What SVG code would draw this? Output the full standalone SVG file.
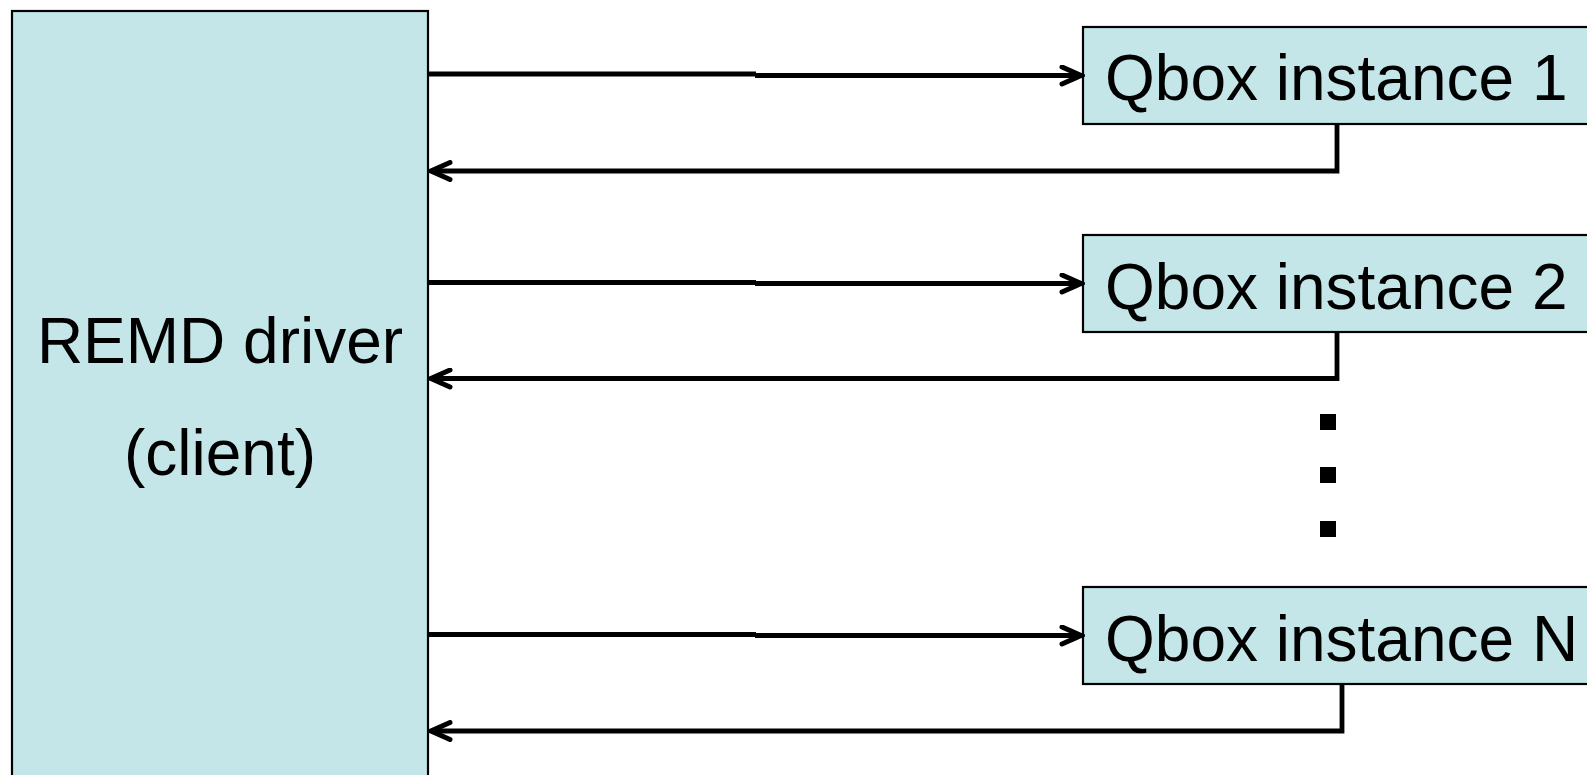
<svg xmlns="http://www.w3.org/2000/svg" width="1587" height="775" viewBox="0 0 1587 775">
  <style>
    .box { fill: #C5E6E8; stroke: #000; stroke-width: 2.2; }
    .label { font-family: "Liberation Sans", Arial, sans-serif; font-size: 64px; fill: #000; }
    .wire { fill: none; stroke: #000; stroke-width: 4.8; }
    .dot { fill: #000; }
  </style>
  <defs>
    <marker id="head" viewBox="0 0 26 22" refX="22" refY="11" markerWidth="26" markerHeight="22" markerUnits="userSpaceOnUse" orient="auto">
      <path d="M3,2.5 L22,11 L3,19.5" fill="none" stroke="#000" stroke-width="5" stroke-linecap="round" stroke-linejoin="miter"/>
    </marker>
  </defs>

  <rect width="1587" height="775" fill="#fff"/>

  <!-- driver process -->
  <g id="remd-driver">
    <rect class="box" x="12" y="11" width="416" height="790"/>
    <text class="label" x="220" y="363" text-anchor="middle">REMD driver</text>
    <text class="label" x="220" y="475" text-anchor="middle">(client)</text>
  </g>

  <!-- server instances -->
  <g id="qbox-1">
    <rect class="box" x="1083" y="27" width="540" height="97"/>
    <text class="label" x="1105" y="100">Qbox instance 1</text>
  </g>
  <g id="qbox-2">
    <rect class="box" x="1083" y="235" width="540" height="97"/>
    <text class="label" x="1105" y="309">Qbox instance 2</text>
  </g>
  <g id="qbox-n">
    <rect class="box" x="1083" y="587" width="540" height="97"/>
    <text class="label" x="1105" y="661">Qbox instance N</text>
  </g>

  <!-- vertical ellipsis between instance 2 and N -->
  <g id="ellipsis">
    <rect class="dot" x="1320" y="414" width="16" height="16"/>
    <rect class="dot" x="1320" y="467" width="16" height="16"/>
    <rect class="dot" x="1320" y="521" width="16" height="16"/>
  </g>

  <!-- requests and replies -->
  <g id="connectors">
    <path class="wire" d="M429,74 H756 M755,75.5 H1081" marker-end="url(#head)"/>
    <path class="wire" d="M1337,124 V171 H431" marker-end="url(#head)"/>

    <path class="wire" d="M429,282.5 H756 M755,283.5 H1081" marker-end="url(#head)"/>
    <path class="wire" d="M1337,332 V378.5 H431" marker-end="url(#head)"/>

    <path class="wire" d="M429,634.5 H756 M755,635.5 H1081" marker-end="url(#head)"/>
    <path class="wire" d="M1342,684 V731 H431" marker-end="url(#head)"/>
  </g>
</svg>
